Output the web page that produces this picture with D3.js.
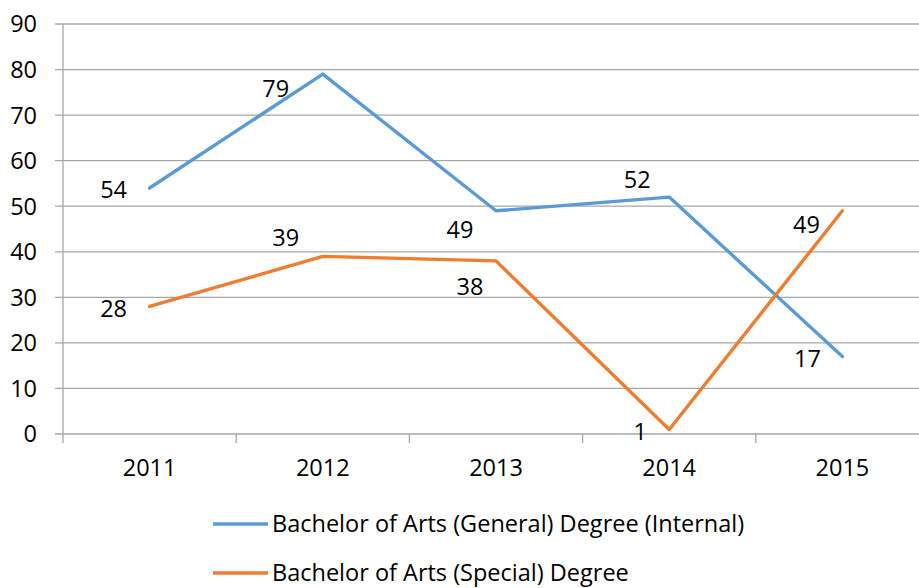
<!DOCTYPE html>
<html>
<head>
<meta charset="utf-8">
<script src="https://cdn.jsdelivr.net/npm/d3@7"></script>
<style>
  body { margin: 0; background: #fff; }
  svg text { font-family: "Open Sans", "Liberation Sans", sans-serif; fill: #000; }
</style>
</head>
<body>
<svg id="chart" width="919" height="588"></svg>
<script>
// data
let years = ['2011', '2012', '2013', '2014', '2015'];
let generalInternal = [54, 79, 49, 52, 17];
let special = [28, 39, 38, 1, 49];
let seriesNames = [
  'Bachelor of Arts (General) Degree (Internal)',
  'Bachelor of Arts (Special) Degree'
];
let yTicks = [0, 10, 20, 30, 40, 50, 60, 70, 80, 90];

let colors = ['#5b9bd5', '#ed7d31'];
let gridColor = '#a6a6a6';
let fontSize = '23.5px';

// label nudges relative to each point (layout only)
let labelNudge = [
  [[-36, 2], [-47, 14], [-36, 19], [-32, -18], [-35, 2]],
  [[-36, 2], [-37, -19], [-26, 26], [-29, 2], [-36, 14]]
];

let margin = { top: 24, left: 63, bottom: 434 };

const svg = d3.select('#chart');

let x = d3.scaleBand().domain(years).range([margin.left, 929]);
let y = d3.scaleLinear().domain([0, 90]).range([margin.bottom, margin.top]);

// gridlines + y ticks
svg.append('g')
  .selectAll('line')
  .data(yTicks)
  .enter()
  .append('line')
  .attr('x1', 55)
  .attr('x2', 919)
  .attr('y1', d => y(d))
  .attr('y2', d => y(d))
  .style('stroke', gridColor)
  .style('stroke-width', 1.3);

svg.append('g')
  .selectAll('text')
  .data(yTicks)
  .enter()
  .append('text')
  .attr('x', 37)
  .attr('y', d => y(d))
  .attr('dy', '0.36em')
  .attr('text-anchor', 'end')
  .style('font-size', fontSize)
  .text(d => d);

// y axis line
svg.append('line')
  .attr('x1', margin.left).attr('x2', margin.left)
  .attr('y1', y(90)).attr('y2', y(0) + 9)
  .style('stroke', gridColor)
  .style('stroke-width', 1.3);

// x ticks at band edges
let edges = years.map(d => x(d)).concat([x(years[years.length - 1]) + x.bandwidth()]);
svg.append('g')
  .selectAll('line')
  .data(edges.slice(1))
  .enter()
  .append('line')
  .attr('x1', d => d).attr('x2', d => d)
  .attr('y1', y(0)).attr('y2', y(0) + 9)
  .style('stroke', gridColor)
  .style('stroke-width', 1.3);

svg.append('g')
  .selectAll('text')
  .data(years)
  .enter()
  .append('text')
  .attr('x', d => x(d) + x.bandwidth() / 2)
  .attr('y', 468)
  .attr('dy', '0.36em')
  .attr('text-anchor', 'middle')
  .style('font-size', fontSize)
  .text(d => d);

// lines
let cx = d => x(d) + x.bandwidth() / 2;
let line = d3.line()
  .x((d, i) => cx(years[i]))
  .y(d => y(d));

[generalInternal, special].forEach((values, s) => {
  svg.append('path')
    .datum(values)
    .attr('d', line)
    .style('fill', 'none')
    .style('stroke', colors[s])
    .style('stroke-width', 3.4)
    .style('stroke-linejoin', 'round')
    .style('stroke-linecap', 'round');
});

// data labels
[generalInternal, special].forEach((values, s) => {
  svg.append('g')
    .selectAll('text')
    .data(values)
    .enter()
    .append('text')
    .attr('x', (d, i) => cx(years[i]) + labelNudge[s][i][0])
    .attr('y', (d, i) => y(d) + labelNudge[s][i][1])
    .attr('dy', '0.36em')
    .attr('text-anchor', 'middle')
    .style('font-size', fontSize)
    .text(d => d);
});

// legend
let legend = svg.selectAll('g.legend')
  .data(seriesNames)
  .enter()
  .append('g')
  .attr('class', 'legend')
  .attr('transform', (d, i) => `translate(213,${524 + i * 49})`);

legend.append('line')
  .attr('x1', 0).attr('x2', 55)
  .attr('y1', 0).attr('y2', 0)
  .style('stroke', (d, i) => colors[i])
  .style('stroke-width', 3.4);

legend.append('text')
  .attr('x', 59)
  .attr('y', 0)
  .attr('dy', '0.36em')
  .style('font-size', fontSize)
  .text(d => d);
</script>
</body>
</html>
